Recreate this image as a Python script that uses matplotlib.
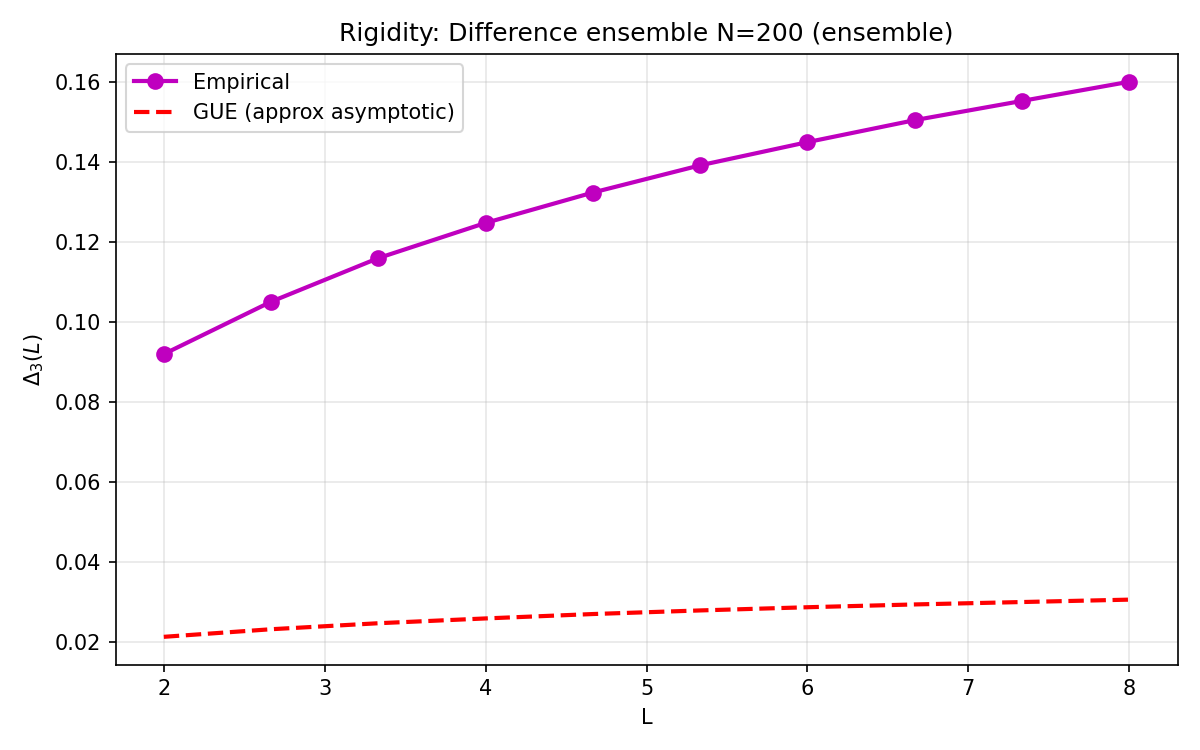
import numpy as np
import matplotlib
matplotlib.use("Agg")
import matplotlib.pyplot as plt

# L values (window lengths)
L_vals = [2.0, 2.667, 3.333, 4.0, 4.667, 5.333, 6.0, 6.667, 7.333, 8.0]
# empirical Delta_3(L)
delta3_emp = [0.0919, 0.1050, 0.1159, 0.1247, 0.1323, 0.1391, 0.1449, 0.1504, 0.1552, 0.1600]
# GUE approx curve
delta3_gue = [0.0212, 0.0231, 0.0246, 0.0258, 0.0269, 0.0278, 0.0286, 0.0293, 0.0299, 0.0305]

fig, ax = plt.subplots(figsize=(8, 5), dpi=150)
ax.plot(L_vals, delta3_emp, 'o-', color='m', lw=2, ms=7, label='Empirical')
ax.plot(L_vals, delta3_gue, '--', color='r', lw=2, label='GUE (approx asymptotic)')
ax.set_xlabel('L')
ax.set_ylabel(r'$\Delta_3(L)$')
ax.set_title('Rigidity: Difference ensemble N=200 (ensemble)')
ax.grid(True, alpha=0.3)
ax.legend(loc='upper left')
fig.tight_layout()
fig.savefig('out.png')
